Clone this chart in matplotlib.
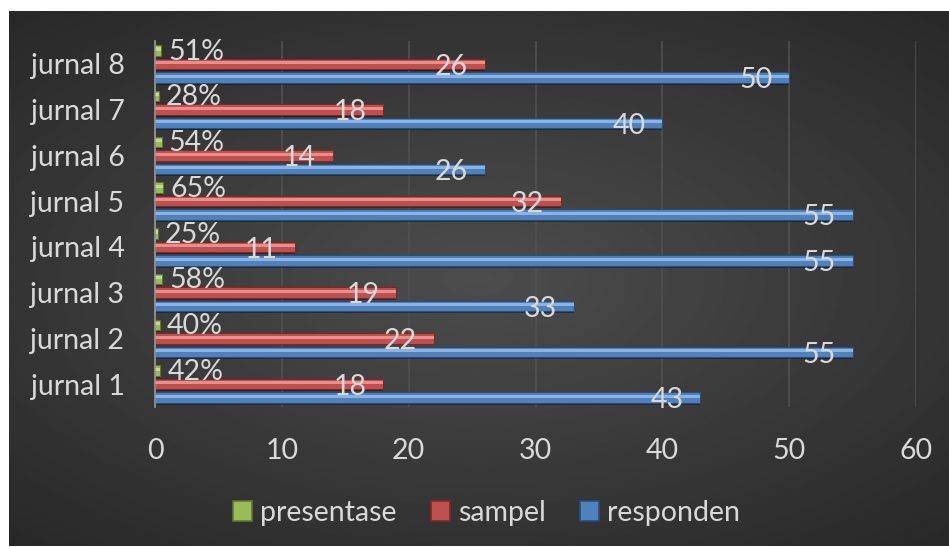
import numpy as np
import matplotlib.pyplot as plt
from matplotlib.patches import Patch

plt.rcParams['font.family'] = ['Lato', 'DejaVu Sans']

# data
journals = ['jurnal 1', 'jurnal 2', 'jurnal 3', 'jurnal 4',
            'jurnal 5', 'jurnal 6', 'jurnal 7', 'jurnal 8']
responden = [43, 55, 33, 55, 55, 26, 40, 50]
sampel = [18, 22, 19, 11, 32, 14, 18, 26]
presentase = [0.42, 0.40, 0.58, 0.25, 0.65, 0.54, 0.28, 0.51]

text_col = '#d9d9d9'
fs = 20.5
fig = plt.figure(figsize=(9.49, 5.47), dpi=100)
fig.patch.set_facecolor('white')

# dark radial background
bg = fig.add_axes([9 / 949, 1 / 547, 940 / 949, 535 / 547])
yy, xx = np.mgrid[-1:1:300j, -1:1:500j]
r = np.sqrt((xx * 0.95) ** 2 + (yy * 1.05) ** 2)
bg.imshow(0.30 - 0.14 * np.clip(r, 0, 1.4) / 1.4, cmap='gray', vmin=0, vmax=1,
          aspect='auto', extent=[0, 1, 0, 1])
bg.axis('off')

ax = fig.add_axes([155 / 949, 1 - 407 / 547, (916 - 155) / 949, (407 - 41) / 547])
ax.set_facecolor('none')

y = np.arange(len(journals))
h = 0.23
off = 0.296

series = [
    (responden, -off, '#4f81bd', '#8db3e2', '#2c4d75'),
    (sampel, 0.0, '#c0504d', '#e6908e', '#7a2a28'),
    (presentase, off, '#9bbb59', '#c3d69b', '#5f7530'),
]
for vals, dy, col, light, dark in series:
    # shadow, body, highlight
    ax.barh(y + dy - 0.04, vals, height=h, color='black', alpha=0.35, zorder=2)
    ax.barh(y + dy, vals, height=h, color=col, edgecolor=dark, linewidth=0.8, zorder=3)
    ax.barh(y + dy + h * 0.12, vals, height=h * 0.3, color=light, linewidth=0, zorder=4)

for i in range(len(journals)):
    ax.annotate(str(responden[i]), (responden[i], y[i] - off), xytext=(-12, -2),
                textcoords='offset points', ha='right', va='center',
                color=text_col, fontsize=fs, zorder=5)
    ax.annotate(str(sampel[i]), (sampel[i], y[i]), xytext=(-12, -2),
                textcoords='offset points', ha='right', va='center',
                color=text_col, fontsize=fs, zorder=5)
    ax.annotate('{:.0%}'.format(presentase[i]), (presentase[i], y[i] + off), xytext=(5, -1),
                textcoords='offset points', ha='left', va='center',
                color=text_col, fontsize=fs, zorder=5)

ax.set_xlim(0, 60)
ax.set_ylim(-0.5, 7.5)
ax.set_xticks(range(0, 61, 10))
ax.set_yticks(y)
ax.set_yticklabels(journals)
ax.tick_params(axis='both', length=0, colors=text_col, labelsize=fs)
ax.tick_params(axis='x', pad=22)
ax.tick_params(axis='y', pad=22)
ax.grid(axis='x', color='#505050', linewidth=1.2, zorder=1)
ax.set_axisbelow(True)
for s in ['top', 'right', 'bottom']:
    ax.spines[s].set_visible(False)
ax.spines['left'].set_color('#9a9a9a')
ax.spines['left'].set_linewidth(1.2)
ax.spines['left'].set_zorder(6)

handles = [Patch(facecolor='#9bbb59', edgecolor='#5f7530', linewidth=1.2),
           Patch(facecolor='#c0504d', edgecolor='#7a2a28', linewidth=1.2),
           Patch(facecolor='#4f81bd', edgecolor='#2c4d75', linewidth=1.2)]
leg = fig.legend(handles, ['presentase', 'sampel', 'responden'], loc='center',
                 bbox_to_anchor=(0.513, 0.062), ncol=3, frameon=False, fontsize=fs,
                 handlelength=0.65, handleheight=0.7, handletextpad=0.3,
                 columnspacing=1.2)
for t in leg.get_texts():
    t.set_color(text_col)

fig.savefig('out.png', dpi=100)
